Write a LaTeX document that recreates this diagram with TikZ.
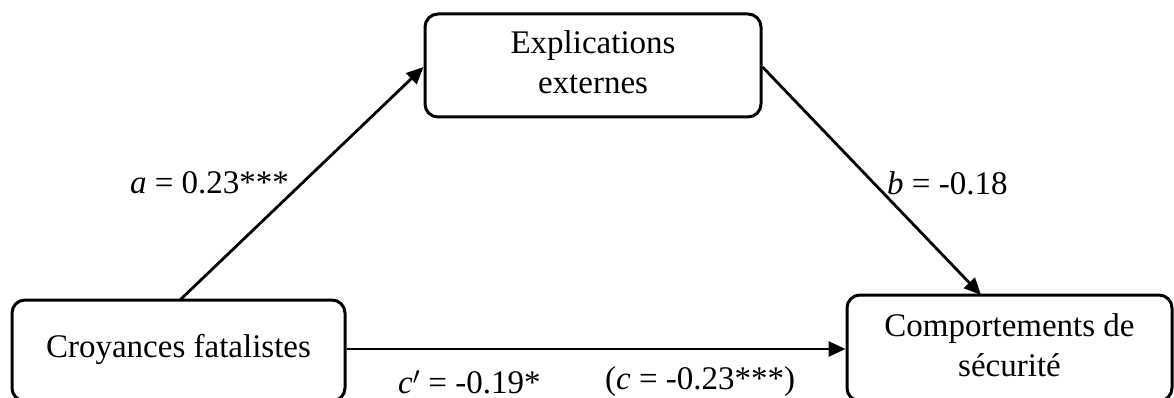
\documentclass[tikz,border=0pt]{standalone}
\usepackage{fontspec}
\setmainfont{Liberation Serif}
\usetikzlibrary{arrows.meta}
\begin{document}
\begin{tikzpicture}[x=1pt,y=-1pt,
  box/.style={draw, line width=3pt, rounded corners=13pt, align=center, inner sep=0pt,
    font=\fontsize{33}{40}\selectfont},
  conn/.style={line width=2.8pt, -{Triangle[length=17pt,width=15pt]}},
  lbl/.style={inner sep=0pt, font=\fontsize{33}{38}\selectfont}]
\useasboundingbox (0,0) rectangle (1174,398);
\node[box, minimum width=336pt, minimum height=103pt] (ext) at (593,65.5)
  {\raisebox{-7pt}{\begin{tabular}{@{}c@{}}Explications\\externes\end{tabular}}};
\node[box, minimum width=333pt, minimum height=101pt] (cro) at (178.5,350.5)
  {\raisebox{10pt}{Croyances fatalistes}};
\node[box, minimum width=325pt, minimum height=106pt] (com) at (1009.5,348)
  {\raisebox{-9pt}{\begin{tabular}{@{}c@{}}Comportements de\\sécurité\end{tabular}}};
\coordinate (aS) at (180,300);
\coordinate (bE) at (981,295);
\draw[conn] (aS) -- (ext.west |- 0,67);
\draw[conn] (ext.east |- 0,67) -- (bE);
\draw[conn] (cro.east |- 0,349) -- (com.west |- 0,349);
\node[lbl] (la) at (209.5,183) {\textit{a} = 0.23***};
\node[lbl, anchor=west] (lb) at (887,183) {\textit{b} = -0.18};
\node[lbl, anchor=west] (lc) at (398,382) {\textit{c}$'$ = -0.19*};
\node[lbl, anchor=west] (lcc) at (605,382) {(\textit{c} = -0.23***)};
\end{tikzpicture}
\end{document}
